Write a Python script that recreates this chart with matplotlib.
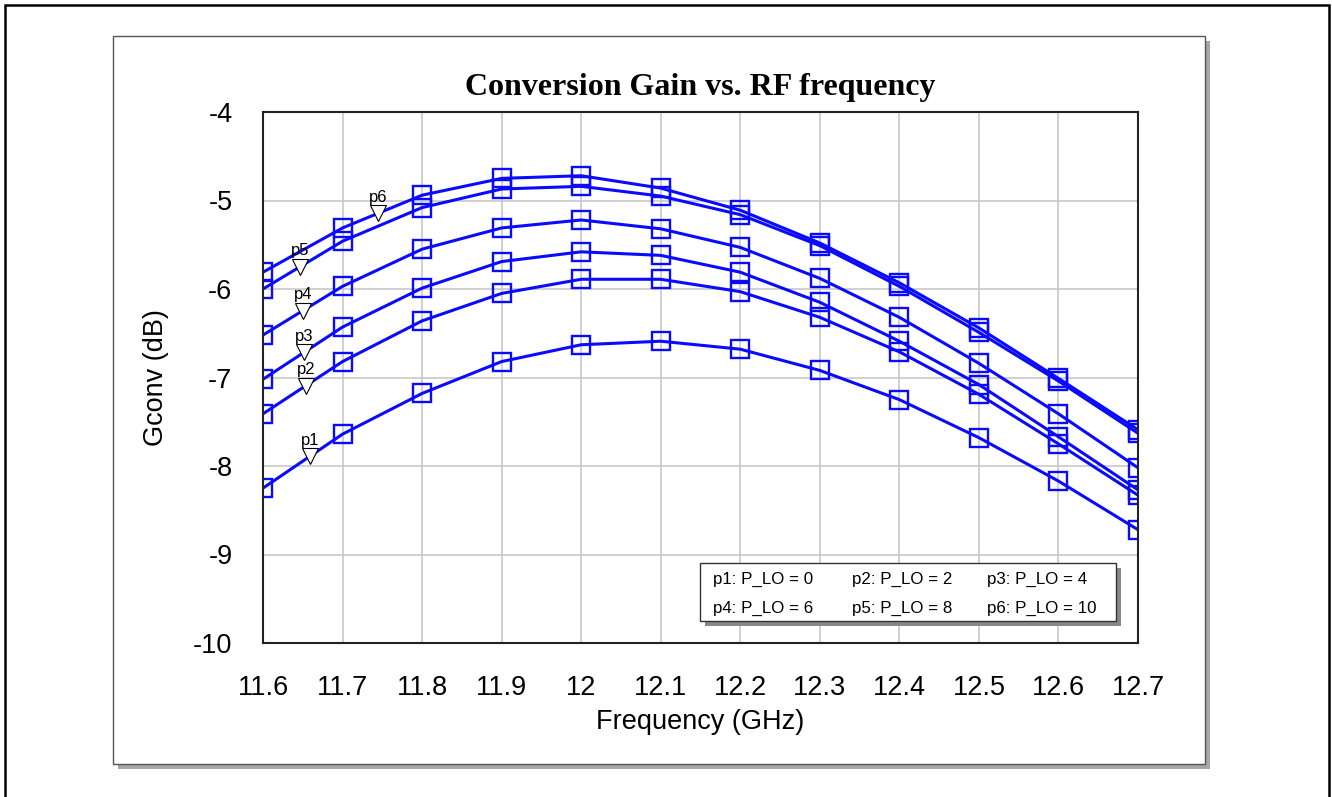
import numpy as np
import matplotlib
matplotlib.use("Agg")
import matplotlib.pyplot as plt
from matplotlib.patches import Rectangle

# ---------------- data ----------------
freq = [11.6, 11.7, 11.8, 11.9, 12.0, 12.1, 12.2, 12.3, 12.4, 12.5, 12.6, 12.7]
p1 = [-8.25, -7.64, -7.18, -6.82, -6.63, -6.59, -6.68, -6.92, -7.25, -7.68, -8.17, -8.72]
p2 = [-7.41, -6.82, -6.36, -6.05, -5.89, -5.89, -6.03, -6.32, -6.71, -7.19, -7.75, -8.33]
p3 = [-7.02, -6.43, -5.99, -5.69, -5.58, -5.62, -5.81, -6.15, -6.59, -7.08, -7.67, -8.27]
p4 = [-6.52, -5.97, -5.55, -5.31, -5.22, -5.32, -5.53, -5.88, -6.32, -6.84, -7.41, -8.02]
p5 = [-6.00, -5.46, -5.08, -4.87, -4.84, -4.95, -5.16, -5.51, -5.97, -6.49, -7.04, -7.63]
p6 = [-5.81, -5.31, -4.94, -4.75, -4.72, -4.86, -5.11, -5.48, -5.93, -6.44, -7.01, -7.59]
series = [p1, p2, p3, p4, p5, p6]
series_names = ["p1", "p2", "p3", "p4", "p5", "p6"]
legend_labels = ["p1: P_LO = 0", "p2: P_LO = 2", "p3: P_LO = 4",
                 "p4: P_LO = 6", "p5: P_LO = 8", "p6: P_LO = 10"]
label_x = [11.659, 11.654, 11.652, 11.650, 11.647, 11.745]  # where the p-labels sit
x_ticks = [11.6, 11.7, 11.8, 11.9, 12.0, 12.1, 12.2, 12.3, 12.4, 12.5, 12.6, 12.7]
x_ticklabels = ["11.6", "11.7", "11.8", "11.9", "12", "12.1", "12.2", "12.3", "12.4", "12.5", "12.6", "12.7"]
y_ticks = [-10, -9, -8, -7, -6, -5, -4]

# ---------------- figure ----------------
W, H = 1332, 797
plt.rcParams['font.family'] = ['Liberation Sans', 'DejaVu Sans']
plt.rcParams['axes.unicode_minus'] = False
fig = plt.figure(figsize=(W / 100, H / 100), dpi=100)

def fx(px):
    return px / W

def fy(py):
    return 1 - py / H

# outer frame
fig.add_artist(Rectangle((fx(5), fy(800)), fx(1329) - fx(5), fy(5) - fy(800),
                         transform=fig.transFigure, fill=False, ec='black', lw=1.8, zorder=0))
# panel shadow + panel
fig.add_artist(Rectangle((fx(118), fy(769)), fx(1210) - fx(118), fy(41) - fy(769),
                         transform=fig.transFigure, fc='#a6a6a6', ec='none', zorder=0))
fig.add_artist(Rectangle((fx(113), fy(764)), fx(1205) - fx(113), fy(36) - fy(764),
                         transform=fig.transFigure, fc='white', ec='#555555', lw=1.0, zorder=0.5))

ax = fig.add_axes([fx(263), fy(643), fx(1138) - fx(263), fy(112) - fy(643)])
ax.set_zorder(2)
ax.set_xlim(11.6, 12.7)
ax.set_ylim(-10, -4)
ax.set_xticks(x_ticks)
ax.set_xticklabels(x_ticklabels)
ax.set_yticks(y_ticks)
ax.grid(True, color='#c8c8c8', lw=1.2)
ax.set_axisbelow(True)
ax.tick_params(length=0, labelsize=19.5)
ax.tick_params(axis='y', pad=22)
ax.tick_params(axis='x', pad=23)
for s in ax.spines.values():
    s.set_linewidth(1.5)
    s.set_color('#222222')

blue = '#0a0aff'
for ys in series:
    ax.plot(freq, ys, color=blue, lw=2.2, marker='s', markersize=13,
            markerfacecolor='none', markeredgecolor=blue, markeredgewidth=1.7)

for name, xs, ys in zip(series_names, label_x, series):
    yv = np.interp(xs, freq, ys)
    ax.plot([xs], [yv], marker='v', markersize=11, markerfacecolor='white',
            markeredgecolor='black', markeredgewidth=0.8, zorder=5)
    ax.annotate(name, (xs, yv), xytext=(0, 6), textcoords='offset points',
                ha='center', va='bottom', fontsize=12, zorder=6)

ax.set_xlabel("Frequency (GHz)", fontsize=19.5, labelpad=6)
ax.set_ylabel("Gconv (dB)", fontsize=19.5, labelpad=17)

fig.text(fx(700), fy(87), "Conversion Gain vs. RF frequency", ha='center', va='center',
         fontsize=23, fontweight='bold', family=['Liberation Serif', 'DejaVu Serif'])

# legend box
fig.add_artist(Rectangle((fx(705), fy(626)), fx(1121) - fx(705), fy(568) - fy(626),
                         transform=fig.transFigure, fc='#888888', ec='none', zorder=3))
fig.add_artist(Rectangle((fx(700), fy(621)), fx(1116) - fx(700), fy(563) - fy(621),
                         transform=fig.transFigure, fc='white', ec='#333333', lw=1.0, zorder=4))
col_x = [713, 852, 987]
row_y = [579, 608]
for i, lab in enumerate(legend_labels):
    fig.text(fx(col_x[i % 3]), fy(row_y[i // 3]), lab, ha='left', va='center',
             fontsize=12.2, zorder=5)

fig.savefig("out.png", dpi=100)
